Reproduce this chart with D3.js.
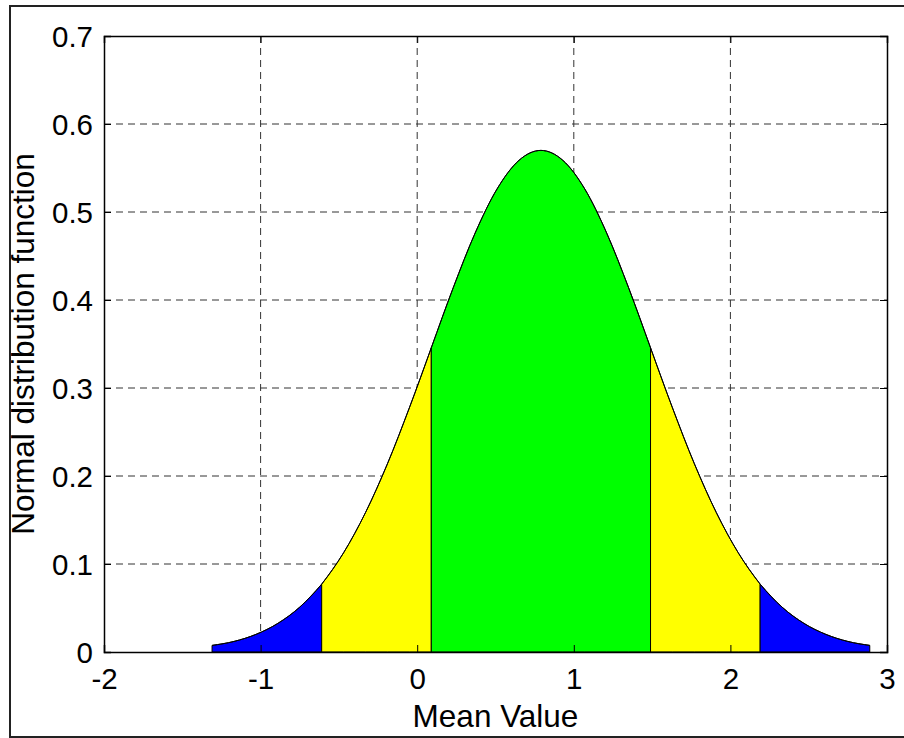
<!DOCTYPE html>
<html lang="en">
<head>
  <meta charset="UTF-8" />
  <title>Normal distribution function</title>
  <script src="https://d3js.org/d3.v7.min.js"></script>
  <style>
    body {
      margin: 0;
      background-color: #fff;
    }
    svg text {
      font-family: "Liberation Sans", Arial, sans-serif;
      fill: #000;
    }
    .grid line {
      stroke: #333;
      stroke-width: 1;
      stroke-dasharray: 7,5;
    }
    .axis path, .axis line {
      stroke: #000;
    }
  </style>
</head>
<body>
  <svg width="904" height="738"></svg>

  <script>
    // tick labels
    const xTicks = [-2, -1, 0, 1, 2, 3];
    const yTicks = [0, 0.1, 0.2, 0.3, 0.4, 0.5, 0.6, 0.7];

    // curve
    const xVals = [-1.31, -1.17, -1.03, -0.89, -0.75, -0.61, -0.47, -0.33, -0.19, -0.05,
                   0.09, 0.23, 0.37, 0.51, 0.65, 0.79, 0.93, 1.07, 1.21, 1.35,
                   1.49, 1.63, 1.77, 1.91, 2.05, 2.19, 2.33, 2.47, 2.61, 2.75, 2.89];
    const yVals = [0.0075, 0.0120, 0.0200, 0.0325, 0.0510, 0.0771, 0.1128, 0.1585, 0.2139, 0.2775,
                   0.3457, 0.4139, 0.4761, 0.5262, 0.5587, 0.5700, 0.5587, 0.5262, 0.4761, 0.4139,
                   0.3457, 0.2775, 0.2139, 0.1585, 0.1128, 0.0771, 0.0510, 0.0325, 0.0200, 0.0120, 0.0075];

    // coloured bands between these x values
    const bandEdges = [-1.31, -0.61, 0.09, 1.49, 2.19, 2.89];
    const bandColors = ["#0000ff", "#ffff00", "#00ff00", "#ffff00", "#0000ff"];

    const svg = d3.select("svg");
    const margin = { top: 36, right: 17, bottom: 86, left: 104 };
    const width = +svg.attr("width") - margin.left - margin.right;
    const height = +svg.attr("height") - margin.top - margin.bottom;
    const g = svg.append("g").attr("transform", `translate(${margin.left},${margin.top})`);

    const x = d3.scaleLinear().domain([-2, 3]).range([0, width]);
    const y = d3.scaleLinear().domain([0, 0.7]).range([height, 0]);

    const points = xVals.map((v, i) => ({ x: v, y: yVals[i] }));

    // grid
    const grid = g.append("g").attr("class", "grid");
    grid.selectAll(".gx")
      .data(xTicks.slice(1, -1))
      .enter()
      .append("line")
      .attr("x1", d => x(d)).attr("x2", d => x(d))
      .attr("y1", 0).attr("y2", height);
    grid.selectAll(".gy")
      .data(yTicks.slice(1, -1))
      .enter()
      .append("line")
      .attr("x1", 0).attr("x2", width)
      .attr("y1", d => y(d)).attr("y2", d => y(d));

    // bands
    const area = d3.area()
      .x(d => x(d.x))
      .y0(y(0))
      .y1(d => y(d.y))
      .curve(d3.curveMonotoneX);

    bandColors.forEach((c, i) => {
      const lo = bandEdges[i], hi = bandEdges[i + 1];
      const sub = points.filter(p => p.x >= lo - 1e-9 && p.x <= hi + 1e-9);
      g.append("path")
        .datum(sub)
        .attr("d", d => area(d) + "Z")
        .attr("fill", c)
        .attr("stroke", "#000")
        .attr("stroke-width", 1);
    });

    // outline
    g.append("path")
      .datum(points)
      .attr("fill", "none")
      .attr("stroke", "#000")
      .attr("stroke-width", 1)
      .attr("d", d3.line().x(d => x(d.x)).y(d => y(d.y)).curve(d3.curveMonotoneX));

    // axes, ticks inward on all sides
    const fs = 29.5, lfs = 31.5;
    g.append("g")
      .attr("class", "axis")
      .attr("transform", `translate(0,${height})`)
      .call(d3.axisBottom(x).tickValues(xTicks).tickSize(-7).tickPadding(16).tickFormat(d => d))
      .call(a => a.selectAll("text").style("font-size", fs + "px"));
    g.append("g")
      .attr("class", "axis")
      .call(d3.axisLeft(y).tickValues(yTicks).tickSize(-7).tickPadding(11).tickFormat(d => d))
      .call(a => a.selectAll("text").style("font-size", fs + "px").attr("dy", "0.34em"));
    g.append("g")
      .attr("class", "axis")
      .call(d3.axisTop(x).tickValues(xTicks).tickSize(-7).tickFormat(""));
    g.append("g")
      .attr("class", "axis")
      .attr("transform", `translate(${width},0)`)
      .call(d3.axisRight(y).tickValues(yTicks).tickSize(-7).tickFormat(""));

    g.selectAll(".axis path").attr("stroke-width", 1.5);

    // axis titles
    svg.append("text")
      .attr("x", margin.left + width / 2)
      .attr("y", 727)
      .attr("text-anchor", "middle")
      .style("font-size", lfs + "px")
      .text("Mean Value");

    svg.append("text")
      .attr("transform", `translate(34,${margin.top + height / 2}) rotate(-90)`)
      .attr("text-anchor", "middle")
      .style("font-size", lfs + "px")
      .text("Normal distribution function");

    // outer frame
    svg.append("rect")
      .attr("x", 10).attr("y", 6)
      .attr("width", 900).attr("height", 731)
      .attr("fill", "none")
      .attr("stroke", "#222")
      .attr("stroke-width", 2);
  </script>
</body>
</html>
